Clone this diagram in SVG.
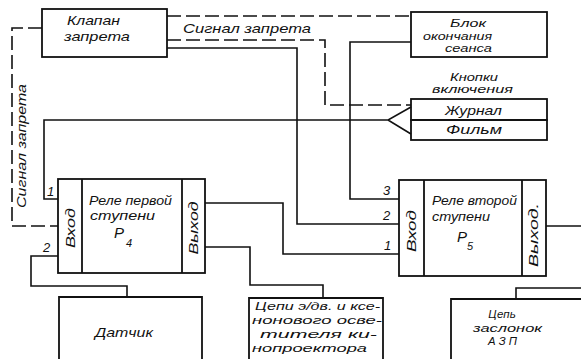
<svg xmlns="http://www.w3.org/2000/svg" width="581" height="359" viewBox="0 0 581 359">
<style>
.b{fill:none;stroke:#111;stroke-width:1.8}
.c{fill:none;stroke:#111;stroke-width:1.6}
.d{fill:none;stroke:#111;stroke-width:1.6;stroke-dasharray:14 5}
text{font-family:"Liberation Sans",Arial,sans-serif;font-style:italic;font-size:13px;fill:#111}
.m{font-size:11.5px}
.n{font-size:15px}
.s{font-size:11px}
</style>
<rect width="581" height="359" fill="#fff"/>
<g id="connectors">
<path class="d" d="M167,16H411"/>
<path class="d" d="M167,40H325V105H411"/>
<path class="c" d="M167,48H297V224H399"/>
<path class="c" d="M411,42H350V199H399"/>
<path class="c" d="M411,107L388,120L411,134M388,120H44V199H58"/>
<path class="d" d="M42,28H12V226H58"/>
<path class="c" d="M58,256H31V286H127V297"/>
<path class="c" d="M205,203H283V254H399"/>
<path class="c" d="M205,247H250V285H323V298"/>
<path class="c" d="M546,226H581"/>
<path class="c" d="M516,299V288H581"/>
<text x="183" y="33" textLength="128" lengthAdjust="spacingAndGlyphs">Сигнал запрета</text>
<text transform="translate(26,146) rotate(-90)" text-anchor="middle" textLength="124" lengthAdjust="spacingAndGlyphs">Сигнал запрета</text>
<text x="47" y="196">1</text>
<text x="43" y="252">2</text>
<text x="383" y="195">3</text>
<text x="383" y="220">2</text>
<text x="384" y="250">1</text>
</g>
<g id="klapan">
<rect class="b" x="42" y="9" width="125" height="48"/>
<text x="67" y="25" textLength="53" lengthAdjust="spacingAndGlyphs">Клапан</text>
<text x="64" y="41" textLength="66" lengthAdjust="spacingAndGlyphs">запрета</text>
</g>
<g id="blok">
<rect class="b" x="411" y="12" width="136" height="45"/>
<text class="m" x="450" y="27" textLength="36" lengthAdjust="spacingAndGlyphs">Блок</text>
<text class="m" x="423" y="40" textLength="69" lengthAdjust="spacingAndGlyphs">окончания</text>
<text class="m" x="445" y="52" textLength="47" lengthAdjust="spacingAndGlyphs">сеанса</text>
</g>
<g id="knopki">
<text class="m" x="450" y="81" textLength="48" lengthAdjust="spacingAndGlyphs">Кнопки</text>
<text class="m" x="432" y="93" textLength="81" lengthAdjust="spacingAndGlyphs">включения</text>
<rect class="b" x="411" y="99" width="136" height="21"/>
<rect class="b" x="411" y="120" width="136" height="20"/>
<text x="445" y="115" textLength="57" lengthAdjust="spacingAndGlyphs">Журнал</text>
<text x="446" y="134" textLength="56" lengthAdjust="spacingAndGlyphs">Фильм</text>
</g>
<g id="p4">
<rect class="b" x="58" y="179" width="147" height="94"/>
<path class="b" d="M82,179V273M182,179V273"/>
<text x="89" y="205" textLength="83" lengthAdjust="spacingAndGlyphs">Реле первой</text>
<text x="90" y="220" textLength="65" lengthAdjust="spacingAndGlyphs">ступени</text>
<text x="114" y="238" class="n">Р</text>
<text x="126" y="247" class="s">4</text>
<text transform="translate(75,228) rotate(-90)" text-anchor="middle" textLength="40" lengthAdjust="spacingAndGlyphs">Вход</text>
<text transform="translate(198,228) rotate(-90)" text-anchor="middle" textLength="53" lengthAdjust="spacingAndGlyphs">Выход</text>
</g>
<g id="p5">
<rect class="b" x="399" y="180" width="147" height="96"/>
<path class="b" d="M424,180V276M522,180V276"/>
<text x="432" y="205" textLength="85" lengthAdjust="spacingAndGlyphs">Реле второй</text>
<text x="432" y="221" textLength="58" lengthAdjust="spacingAndGlyphs">ступени</text>
<text x="457" y="242" class="n">Р</text>
<text x="467" y="250" class="s">5</text>
<text transform="translate(416,231) rotate(-90)" text-anchor="middle" textLength="42" lengthAdjust="spacingAndGlyphs">Вход</text>
<text transform="translate(538,235) rotate(-90)" text-anchor="middle" textLength="64" lengthAdjust="spacingAndGlyphs">Выход.</text>
</g>
<g id="datchik">
<path class="b" d="M59,370V297H202V370"/>
<text x="95" y="337" textLength="58" lengthAdjust="spacingAndGlyphs">Датчик</text>
</g>
<g id="cepi">
<path class="b" d="M249,370V298H383V370"/>
<text class="m" x="255" y="310" textLength="125" lengthAdjust="spacingAndGlyphs">Цепи э/дв. и ксе-</text>
<text class="m" x="252" y="324" textLength="130" lengthAdjust="spacingAndGlyphs">нонового осве-</text>
<text class="m" x="260" y="338" textLength="117" lengthAdjust="spacingAndGlyphs">тителя ки-</text>
<text class="m" x="252" y="352" textLength="115" lengthAdjust="spacingAndGlyphs">нопроектора</text>
</g>
<g id="zaslonki">
<path class="b" d="M451,370V299H590"/>
<text class="m" x="502" y="318" text-anchor="middle">Цепь</text>
<text class="m" x="473" y="332" textLength="69" lengthAdjust="spacingAndGlyphs">заслонок</text>
<text class="m" x="488" y="345" textLength="29" lengthAdjust="spacingAndGlyphs">А З П</text>
</g>
</svg>
